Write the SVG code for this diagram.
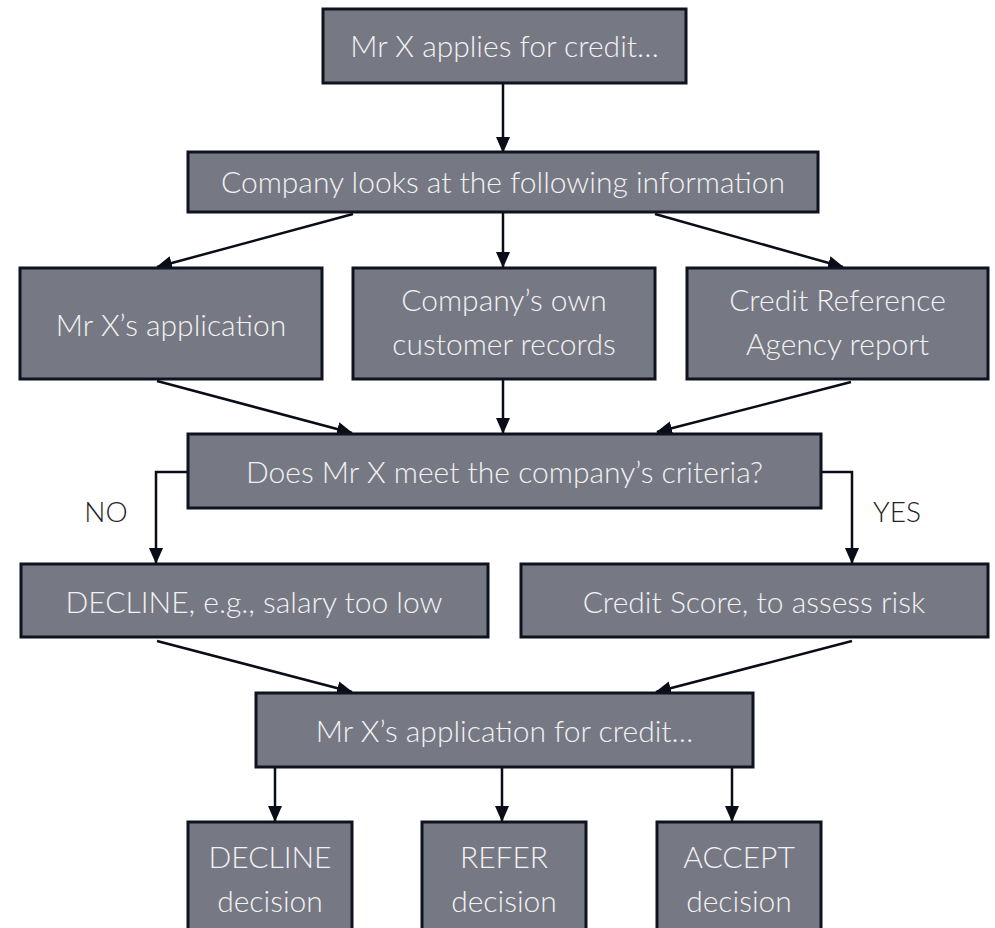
<svg xmlns="http://www.w3.org/2000/svg" width="995" height="928" viewBox="0 0 995 928">
<defs>
<style>
.box{fill:#767984;stroke:#0f1320;stroke-width:3}
.t{font-family:Lato,"Open Sans","Liberation Sans",sans-serif;font-weight:300;font-size:30px;fill:#f2f2f2;text-anchor:middle}
.lbl{font-family:Lato,"Open Sans","Liberation Sans",sans-serif;font-weight:300;font-size:28px;fill:#222;text-anchor:middle}
.c{fill:none;stroke:#0a0d18;stroke-width:2.5}
</style>
<marker id="ah" markerUnits="userSpaceOnUse" markerWidth="16" markerHeight="16" viewBox="0 0 16 16" refX="15" refY="8" orient="auto">
<path d="M0,1 L16,8 L0,15 Z" fill="#0a0d18"/>
</marker>
</defs>
<rect width="995" height="928" fill="#ffffff"/>
<g id="connectors">
<line class="c" x1="503" y1="83" x2="503" y2="152" marker-end="url(#ah)"/>
<line class="c" x1="353" y1="214" x2="157" y2="267" marker-end="url(#ah)"/>
<line class="c" x1="503" y1="212" x2="503" y2="267" marker-end="url(#ah)"/>
<line class="c" x1="655" y1="214" x2="843" y2="267" marker-end="url(#ah)"/>
<line class="c" x1="157" y1="381" x2="352" y2="433" marker-end="url(#ah)"/>
<line class="c" x1="503" y1="380" x2="503" y2="433" marker-end="url(#ah)"/>
<line class="c" x1="851" y1="382" x2="657" y2="432" marker-end="url(#ah)"/>
<polyline class="c" points="188,472 156,472 156,563" marker-end="url(#ah)"/>
<polyline class="c" points="821,472 852,472 852,563" marker-end="url(#ah)"/>
<line class="c" x1="157" y1="641" x2="352" y2="692" marker-end="url(#ah)"/>
<line class="c" x1="852" y1="641" x2="656" y2="692" marker-end="url(#ah)"/>
<line class="c" x1="275" y1="767" x2="275" y2="821" marker-end="url(#ah)"/>
<line class="c" x1="502" y1="767" x2="502" y2="821" marker-end="url(#ah)"/>
<line class="c" x1="732" y1="767" x2="732" y2="821" marker-end="url(#ah)"/>
<text class="lbl" x="106" y="522">NO</text>
<text class="lbl" x="897" y="522">YES</text>
</g>
<g id="n1"><rect class="box" x="323" y="9" width="363" height="74"/><text class="t" x="504.5" y="57">Mr X applies for credit…</text></g>
<g id="n2"><rect class="box" x="188" y="152" width="630" height="60"/><text class="t" x="503" y="193">Company looks at the following information</text></g>
<g id="n3"><rect class="box" x="20" y="268" width="302" height="111"/><text class="t" x="171" y="336">Mr X’s application</text></g>
<g id="n4"><rect class="box" x="353" y="268" width="302" height="111"/><text class="t" x="504" y="311">Company’s own</text><text class="t" x="504" y="355">customer records</text></g>
<g id="n5"><rect class="box" x="687" y="268" width="301" height="111"/><text class="t" x="837.5" y="311">Credit Reference</text><text class="t" x="837.5" y="355">Agency report</text></g>
<g id="n6"><rect class="box" x="188" y="434" width="633" height="74"/><text class="t" x="504.5" y="483">Does Mr X meet the company’s criteria?</text></g>
<g id="n7"><rect class="box" x="21" y="564" width="467" height="73"/><text class="t" x="254" y="613">DECLINE, e.g., salary too low</text></g>
<g id="n8"><rect class="box" x="521" y="564" width="467" height="73"/><text class="t" x="754" y="613">Credit Score, to assess risk</text></g>
<g id="n9"><rect class="box" x="256" y="693" width="497" height="74"/><text class="t" x="504.5" y="742">Mr X’s application for credit…</text></g>
<g id="n10"><rect class="box" x="188" y="822" width="164" height="120"/><text class="t" x="270" y="868">DECLINE</text><text class="t" x="270" y="912">decision</text></g>
<g id="n11"><rect class="box" x="422" y="822" width="164" height="120"/><text class="t" x="504" y="868">REFER</text><text class="t" x="504" y="912">decision</text></g>
<g id="n12"><rect class="box" x="657" y="822" width="164" height="120"/><text class="t" x="739" y="868">ACCEPT</text><text class="t" x="739" y="912">decision</text></g>
</svg>
